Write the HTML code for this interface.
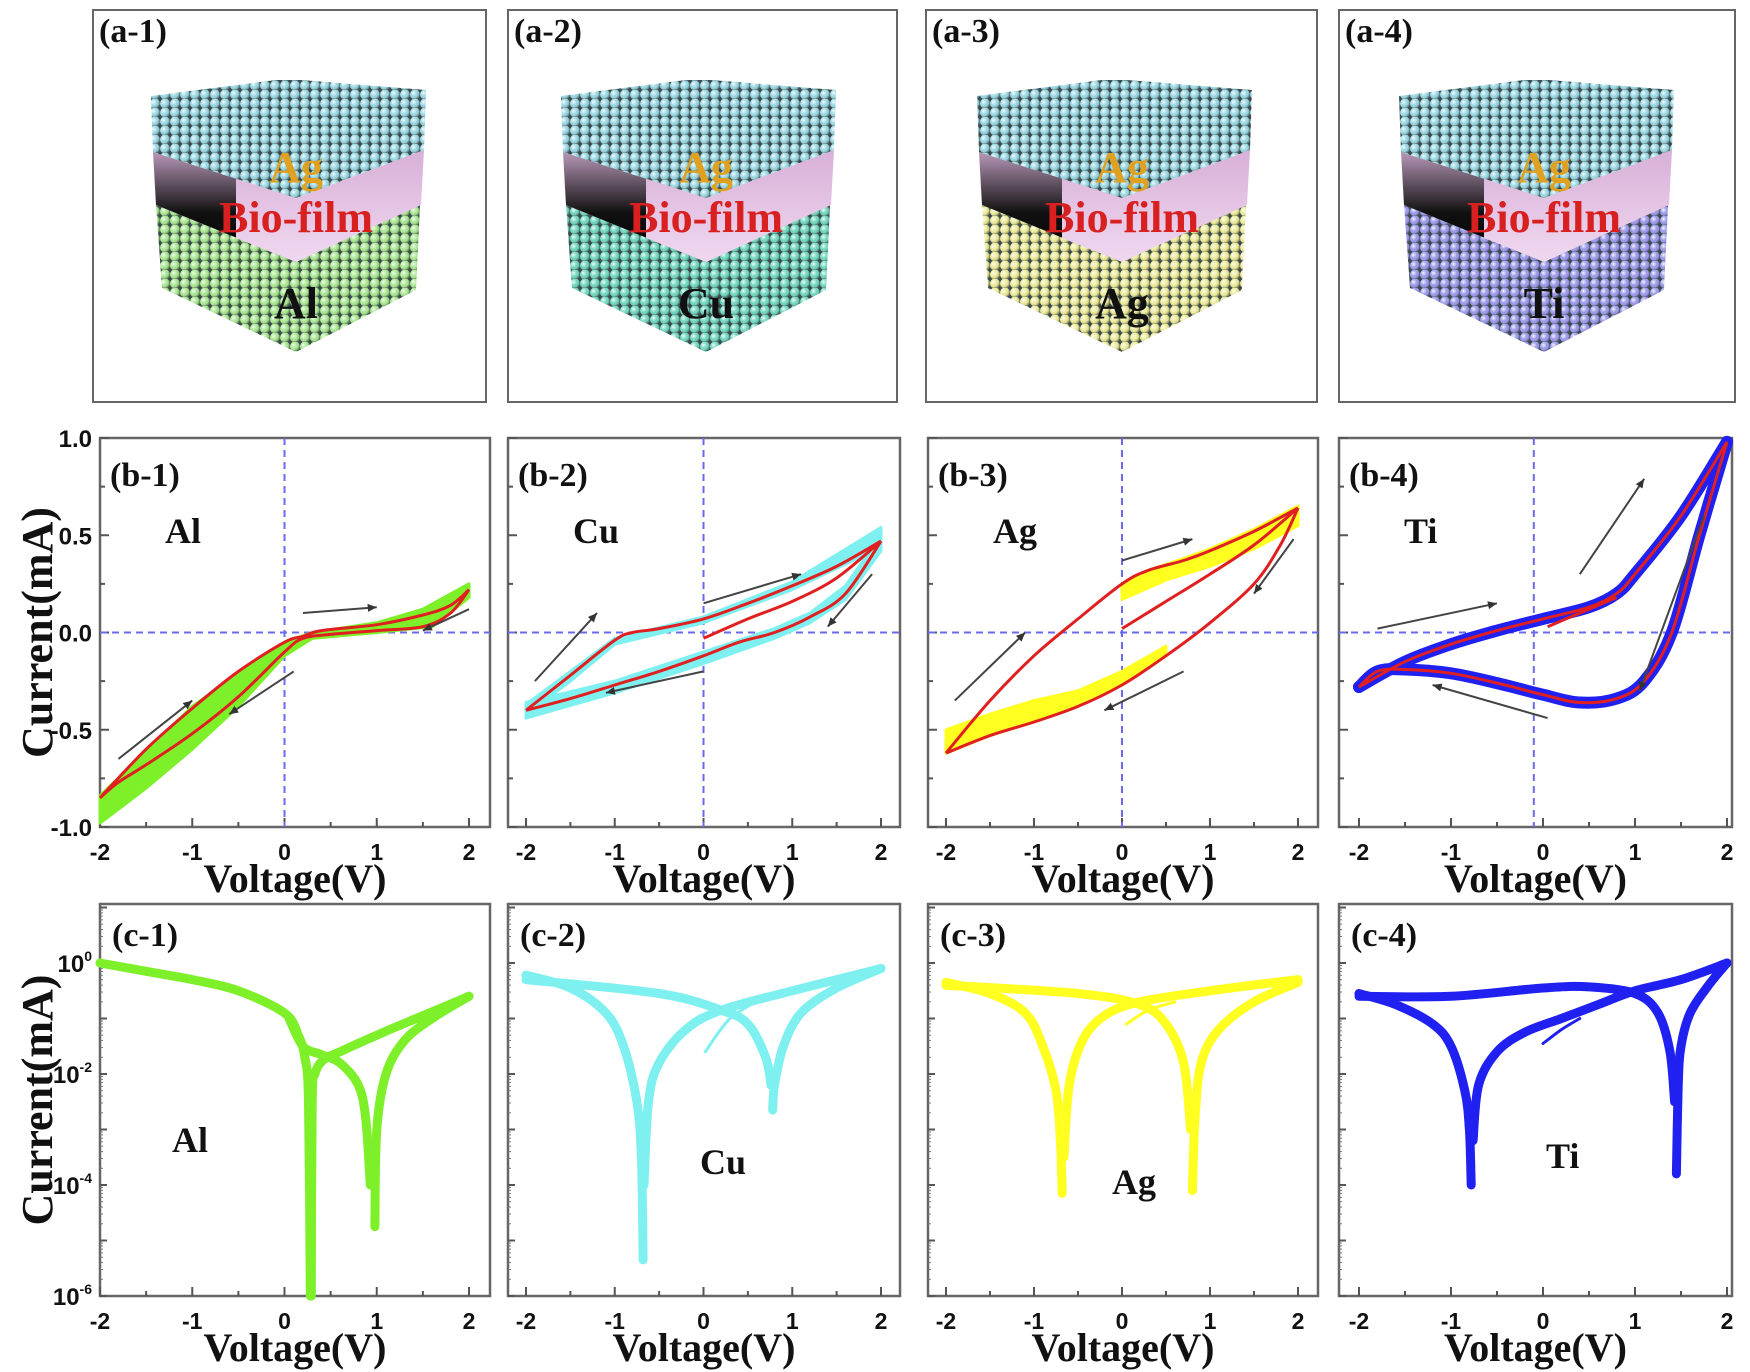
<!DOCTYPE html>
<html><head><meta charset="utf-8"><style>
html,body{margin:0;padding:0;background:#fff}
svg{display:block}
.ser{font-family:"Liberation Serif",serif;font-weight:bold}
.san{font-family:"Liberation Sans",sans-serif;font-weight:bold}
</style></head><body>
<svg id="fig" width="1750" height="1372" viewBox="0 0 1750 1372" xmlns="http://www.w3.org/2000/svg">
<defs>
<radialGradient id="sph" cx="35%" cy="35%" r="65%"><stop offset="0" stop-color="#fff" stop-opacity="0.9"/><stop offset="0.5" stop-color="#fff" stop-opacity="0"/><stop offset="1" stop-color="#000" stop-opacity="0.45"/></radialGradient>
<linearGradient id="bioG" x1="0" y1="1" x2="0" y2="0"><stop offset="0" stop-color="#000"/><stop offset="0.45" stop-color="#111"/><stop offset="1" stop-color="#b898b8"/></linearGradient>
<linearGradient id="bioT" x1="0" y1="0" x2="0" y2="1"><stop offset="0" stop-color="#d8b0d8"/><stop offset="1" stop-color="#f0d8f0"/></linearGradient>
</defs>
</svg>
<script>
// ---------- data: b row (linear I-V, mA) ----------
const bTicksY = [-1.0, -0.5, 0.0, 0.5, 1.0];
const bTickLabelsY = ["-1.0", "-0.5", "0.0", "0.5", "1.0"];
const xTicks = [-2, -1, 0, 1, 2];
const xTickLabels = ["-2", "-1", "0", "1", "2"];
const metals = ["Al", "Cu", "Ag", "Ti"];
const bandColors = ["#7ef02a", "#7ff0f0", "#ffff20", "#2020f0"];

const alFwd = [[-2,-0.85],[-1.5,-0.6],[-1,-0.39],[-0.5,-0.2],[0,-0.05],[0.2,-0.02],[0.4,0.01],[1,0.04],[1.5,0.09],[1.8,0.14],[2,0.22]];
const alRev = [[2,0.22],[1.8,0.1],[1.5,0.03],[1,0.01],[0.5,-0.01],[0.2,-0.03],[0,-0.1],[-0.5,-0.33],[-1,-0.52],[-1.5,-0.68],[-1.8,-0.77],[-2,-0.85]];
const alBand = [[-2,-0.84],[-1,-0.38],[0,-0.05],[0.3,0.0],[1,0.05],[1.5,0.12],[2,0.25],[2,0.18],[1.6,0.03],[1,0.0],[0.3,-0.03],[0,-0.12],[-0.5,-0.38],[-1,-0.6],[-1.5,-0.8],[-2,-0.98]];

const cuFwd = [[-2,-0.4],[-1.5,-0.22],[-1,-0.04],[-0.8,0.0],[-0.5,0.02],[0,0.07],[0.5,0.15],[1,0.24],[1.5,0.34],[2,0.47]];
const cuRev = [[2,0.47],[1.6,0.2],[1.2,0.08],[0.8,0.0],[0.4,-0.05],[0,-0.12],[-0.5,-0.2],[-1,-0.27],[-1.5,-0.34],[-2,-0.4]];
const cuInit = [[0,-0.03],[0.5,0.07],[1,0.16],[1.5,0.28],[2,0.47]];
const cuBandHi = [[-2,-0.37],[-1.5,-0.2],[-1,-0.03],[0,0.08],[1,0.26],[2,0.54],[2,0.44],[1,0.22],[0,0.05],[-1,-0.06],[-1.5,-0.25],[-2,-0.42]];
const cuBandLo = [[2,0.42],[1.6,0.17],[1.2,0.05],[0.8,-0.03],[0,-0.16],[-1,-0.31],[-2,-0.44],[-2,-0.36],[-1,-0.25],[0,-0.1],[0.8,0.02],[1.2,0.1],[1.6,0.24],[2,0.5]];

const agFwd = [[-2,-0.62],[-1.5,-0.35],[-1,-0.12],[-0.5,0.07],[0,0.25],[0.3,0.32],[0.7,0.37],[1,0.42],[1.5,0.52],[2,0.64]];
const agRev = [[2,0.64],[1.8,0.45],[1.5,0.25],[1,0.05],[0.5,-0.12],[0,-0.27],[-0.5,-0.38],[-1,-0.46],[-1.5,-0.53],[-2,-0.62]];
const agInit = [[0,0.02],[0.5,0.16],[1,0.3],[1.5,0.45],[2,0.64]];
const agBandHi = [[0,0.25],[0.3,0.32],[0.7,0.38],[1,0.43],[1.5,0.53],[2,0.65],[2,0.55],[1.5,0.43],[1,0.34],[0.5,0.27],[0,0.17]];
const agBandLo = [[0.5,-0.12],[0,-0.27],[-0.5,-0.38],[-1,-0.46],[-1.5,-0.53],[-2,-0.62],[-2,-0.5],[-1.5,-0.42],[-1,-0.35],[-0.5,-0.3],[0,-0.2],[0.5,-0.07]];

const tiFwd = [[-2,-0.28],[-1.5,-0.15],[-1,-0.06],[-0.5,0.01],[0,0.07],[0.5,0.13],[0.8,0.2],[1,0.3],[1.5,0.6],[2,0.98]];
const tiRev = [[2,0.98],[1.7,0.5],[1.4,0.0],[1.1,-0.25],[0.8,-0.34],[0.4,-0.36],[0,-0.32],[-0.5,-0.26],[-1,-0.21],[-1.5,-0.19],[-1.8,-0.2],[-2,-0.28]];
const tiInit = [[0.05,0.03],[0.5,0.12],[0.8,0.18]];

// ---------- data: c row (log10 |I|) ----------
const cTicksExp = [0, -2, -4, -6];
const cTickLabels = ["0", "-2", "-4", "-6"];
const alLog1 = [[-2,0.0],[-1.5,-0.15],[-1,-0.3],[-0.5,-0.5],[0,-0.9],[0.15,-1.3],[0.22,-1.7],[0.26,-2.5],[0.28,-6]];
const alLog2 = [[0.29,-6],[0.3,-2.5],[0.33,-2.0],[0.42,-1.75],[0.6,-1.6],[1,-1.3],[1.5,-0.95],[2,-0.6]];
const alLog3 = [[2,-0.6],[1.6,-1.0],[1.3,-1.4],[1.1,-2.0],[1.0,-3.0],[0.98,-4.75]];
const alLog4 = [[0.93,-4.0],[0.88,-2.8],[0.8,-2.2],[0.6,-1.8],[0.4,-1.65],[0.2,-1.5],[0.05,-1.0]];
const cuLog1 = [[-2,-0.22],[-1.5,-0.45],[-1.1,-0.9],[-0.9,-1.5],[-0.75,-2.5],[-0.7,-3.5],[-0.68,-5.35]];
const cuLog2 = [[-0.67,-4.0],[-0.62,-2.5],[-0.5,-1.8],[-0.2,-1.2],[0.2,-0.85],[1,-0.5],[2,-0.1]];
const cuLog3 = [[2,-0.1],[1.5,-0.45],[1.1,-0.9],[0.9,-1.5],[0.8,-2.2],[0.78,-2.65]];
const cuLog4 = [[0.76,-2.2],[0.7,-1.7],[0.5,-1.1],[0.2,-0.85],[-0.5,-0.55],[-2,-0.3]];
const cuLog5 = [[0.02,-1.6],[0.3,-1.0],[0.7,-0.6]];
const agLog1 = [[-2,-0.35],[-1.5,-0.55],[-1.1,-0.9],[-0.9,-1.5],[-0.75,-2.3],[-0.7,-3.2],[-0.68,-4.15]];
const agLog2 = [[-0.66,-3.5],[-0.6,-2.2],[-0.45,-1.4],[-0.2,-0.95],[0.2,-0.7],[1,-0.5],[2,-0.3]];
const agLog3 = [[2,-0.35],[1.5,-0.7],[1.1,-1.2],[0.9,-1.8],[0.83,-2.8],[0.8,-4.1]];
const agLog4 = [[0.78,-3.0],[0.7,-1.8],[0.5,-1.1],[0.2,-0.75],[-0.5,-0.55],[-2,-0.4]];
const agLog5 = [[0.05,-1.1],[0.3,-0.85],[0.6,-0.7]];
const tiLog1 = [[-2,-0.55],[-1.6,-0.75],[-1.2,-1.1],[-1.0,-1.5],[-0.85,-2.3],[-0.8,-3.0],[-0.78,-4.0]];
const tiLog2 = [[-0.76,-3.2],[-0.7,-2.2],[-0.5,-1.6],[-0.2,-1.25],[0.2,-1.0],[0.6,-0.75],[1,-0.5],[1.5,-0.3],[2,0.0]];
const tiLog3 = [[2,0.0],[1.8,-0.4],[1.6,-0.9],[1.5,-1.5],[1.47,-2.2],[1.45,-3.8]];
const tiLog4 = [[1.43,-2.5],[1.38,-1.6],[1.25,-0.9],[1.0,-0.55],[0.5,-0.43],[0,-0.45],[-1,-0.6],[-2,-0.6]];
const tiLog5 = [[0.0,-1.45],[0.2,-1.2],[0.4,-1.0]];

// ---------- layout ----------
const NS = "http://www.w3.org/2000/svg";
const svg = document.getElementById("fig");
const aBoxes = [[93,486],[508,897],[926,1317],[1339,1735]];
const cubeCx = [296, 706, 1122, 1544];
const metalFill = ["#a8e890", "#6fd8c0", "#ecec98", "#9a98ec"];
const panelX = [[100,490,100,469],[508,900,526,881],[928,1318,946,1298],[1339,1732,1359,1727]];
const bTop = 438, bBot = 827;
const cTop = 904, cBot = 1296, cY0 = 963, cYm6 = 1296;
const cLabelXY = [[172,1152],[700,1174],[1112,1194],[1546,1168]];

function el(tag, attrs, parent) {
  const e = document.createElementNS(NS, tag);
  for (const k in attrs) e.setAttribute(k, attrs[k]);
  (parent || svg).appendChild(e);
  return e;
}
function smooth(pts) {
  if (pts.length < 2) return "";
  let d = "M" + pts[0][0].toFixed(1) + "," + pts[0][1].toFixed(1);
  for (let i = 0; i < pts.length - 1; i++) {
    const p0 = pts[Math.max(0, i - 1)], p1 = pts[i], p2 = pts[i + 1], p3 = pts[Math.min(pts.length - 1, i + 2)];
    const c1 = [p1[0] + (p2[0] - p0[0]) / 6, p1[1] + (p2[1] - p0[1]) / 6];
    const c2 = [p2[0] - (p3[0] - p1[0]) / 6, p2[1] - (p3[1] - p1[1]) / 6];
    d += "C" + c1[0].toFixed(1) + "," + c1[1].toFixed(1) + " " + c2[0].toFixed(1) + "," + c2[1].toFixed(1) + " " + p2[0].toFixed(1) + "," + p2[1].toFixed(1);
  }
  return d;
}
function text(str, x, y, size, cls, anchor, parent, fill) {
  const t = el("text", {x: x, y: y, "font-size": size, class: cls, "text-anchor": anchor || "start", fill: fill || "#111"}, parent);
  t.textContent = str;
  return t;
}

// ---------- sphere patterns ----------
const defs = svg.querySelector("defs");
function spherePattern(id, color) {
  const p = el("pattern", {id: id, width: 10, height: 9, patternUnits: "userSpaceOnUse"}, defs);
  el("rect", {width: 10, height: 9, fill: "#3a4a4a"}, p);
  el("circle", {cx: 5, cy: 4.5, r: 5, fill: color}, p);
  el("circle", {cx: 5, cy: 4.5, r: 5, fill: "url(#sph)"}, p);
}
spherePattern("pAg", "#98d8e4");
metalFill.forEach((c, i) => spherePattern("pM" + i, c));

// ---------- row a: cubes ----------
aBoxes.forEach((b, i) => {
  const g = el("g", {});
  
  
  el("rect", {x: b[0], y: 10, width: b[1] - b[0], height: 392, fill: "#fff", stroke: "#666", "stroke-width": 2}, g);
  const lab = text("(a-" + (i + 1) + ")", b[0] + 6, 42, 34, "ser", "start", g);
  
  
  const cx = cubeCx[i];
  const P = a => a.map(p => (cx + p[0]) + "," + p[1]).join(" ");
  el("polygon", {points: P([[-140,205],[0,262],[124,205],[120,290],[0,352],[-134,288]]), fill: "url(#pM" + i + ")"}, g);
  el("polygon", {points: P([[-143,152],[0,198],[0,262],[-140,205]]), fill: "url(#bioG)"}, g);
  el("polygon", {points: P([[-60,178],[0,198],[128,150],[125,205],[0,262],[-60,238]]), fill: "url(#bioT)"}, g);
  el("polygon", {points: P([[-145,96],[-20,80],[5,80],[130,90],[128,150],[0,198],[-143,152]]), fill: "url(#pAg)"}, g);
  text("Ag", cx, 182, 44, "ser", "middle", g, "#e0a020");
  text("Bio-film", cx, 232, 44, "ser", "middle", g, "#d82020");
  text(metals[i], cx, 318, 44, "ser", "middle", g, "#111");
});

// ---------- axes helpers ----------
function panelFrame(i, top, bot, row) {
  const px = panelX[i];
  const g = el("g", {});
  
  
  el("rect", {x: px[0], y: top, width: px[1] - px[0], height: bot - top, fill: "#fff", stroke: "#666", "stroke-width": 2.5}, g);
  const sx = v => px[2] + (v + 2) / 4 * (px[3] - px[2]);
  for (let v = -2; v <= 2.001; v += 0.5) {
    const len = Math.abs(v - Math.round(v)) < 0.01 ? 9 : 5;
    el("line", {x1: sx(v), x2: sx(v), y1: bot, y2: bot - len, stroke: "#555", "stroke-width": 2}, g);
  }
  xTicks.forEach((v, k) => {
    const t = text(xTickLabels[k], sx(v), bot + 33, 23, "san", "middle", g);
    
    
  });
  const xl = text("Voltage(V)", (px[0] + px[1]) / 2, bot + 65, 40, "ser", "middle", g);
  
  
  return {g: g, sx: sx};
}

// ---------- row b ----------
const bSets = [
  {band: [alBand], fwd: alFwd, rev: alRev, init: null, zeroV: 0},
  {band: [cuBandHi, cuBandLo], fwd: cuFwd, rev: cuRev, init: cuInit, zeroV: 0},
  {band: [agBandHi, agBandLo], fwd: agFwd, rev: agRev, init: agInit, zeroV: 0},
  {band: [], fwd: tiFwd, rev: tiRev, init: tiInit, zeroV: -0.1}
];
const byS = v => bTop + (1 - v) / 2 * (bBot - bTop);
bSets.forEach((s, i) => {
  const f = panelFrame(i, bTop, bBot, "b");
  const g = f.g, sx = f.sx;
  const px = panelX[i];
  for (let v = -1; v <= 1.001; v += 0.25) {
    const len = Math.abs(v * 2 - Math.round(v * 2)) < 0.01 ? 9 : 5;
    el("line", {x1: px[0], x2: px[0] + len, y1: byS(v), y2: byS(v), stroke: "#555", "stroke-width": 2}, g);
  }
  if (i === 0) {
    bTicksY.forEach((v, k) => {
      const t = text(bTickLabelsY[k], px[0] - 8, byS(v) + 9, 24, "san", "end", g);
      
      
    });
  }
  el("line", {x1: sx(s.zeroV), x2: sx(s.zeroV), y1: bTop, y2: bBot, stroke: "#6a6af0", "stroke-width": 2, "stroke-dasharray": "7,5"}, g);
  el("line", {x1: px[0], x2: px[1], y1: byS(0), y2: byS(0), stroke: "#6a6af0", "stroke-width": 2, "stroke-dasharray": "7,5"}, g);
  s.band.forEach(b => {
    const poly = el("polygon", {points: b.map(p => sx(p[0]) + "," + byS(p[1])).join(" "), fill: bandColors[i], stroke: bandColors[i], "stroke-width": 3, "stroke-linejoin": "round"}, g);
    
    
  });
  if (i === 3) {
    [s.fwd, s.rev].forEach(arr => {
      const bl = el("path", {d: smooth(arr.map(p => [sx(p[0]), byS(p[1])])), fill: "none", stroke: bandColors[3], "stroke-width": 12, "stroke-linecap": "round"}, g);
      
      
    });
  }
  [s.fwd, s.rev, s.init].forEach((arr, k) => {
    if (!arr) return;
    const pth = el("path", {d: smooth(arr.map(p => [sx(p[0]), byS(p[1])])), fill: "none", stroke: "#e02020", "stroke-width": 3}, g);
    
    
  });
  const pl = text("(b-" + (i + 1) + ")", px[0] + 10, bTop + 48, 34, "ser", "start", g);
  
  
  const ml = text(metals[i], px[0] + 65, bTop + 105, 36, "ser", "start", g);
  
  
});

// sweep direction arrows (annotations)
const arrowsB = [
  [[-1.8,-0.65],[-1.0,-0.35]], [[0.2,0.1],[1.0,0.13]], [[2.0,0.12],[1.5,0.01]], [[0.1,-0.2],[-0.6,-0.42]],
  [[-1.9,-0.25],[-1.2,0.1]], [[0.0,0.15],[1.1,0.3]], [[1.9,0.3],[1.4,0.03]], [[0.0,-0.2],[-1.1,-0.31]],
  [[-1.9,-0.35],[-1.1,0.0]], [[0.0,0.37],[0.8,0.48]], [[1.95,0.48],[1.5,0.2]], [[0.7,-0.2],[-0.2,-0.4]],
  [[-1.8,0.02],[-0.5,0.15]], [[0.4,0.3],[1.1,0.79]], [[1.75,0.6],[1.05,-0.3]], [[0.05,-0.44],[-1.2,-0.27]]
];
arrowsB.forEach((a, k) => {
  const i = Math.floor(k / 4);
  const px = panelX[i];
  const sx = v => px[2] + (v + 2) / 4 * (px[3] - px[2]);
  const x1 = sx(a[0][0]), y1 = byS(a[0][1]), x2 = sx(a[1][0]), y2 = byS(a[1][1]);
  const ln = el("line", {x1: x1, y1: y1, x2: x2, y2: y2, stroke: "#444", "stroke-width": 2});
  
  
  const ang = Math.atan2(y2 - y1, x2 - x1);
  const hx = x2 - 9 * Math.cos(ang), hy = y2 - 9 * Math.sin(ang);
  el("polygon", {points: x2 + "," + y2 + " " + (hx + 4 * Math.sin(ang)) + "," + (hy - 4 * Math.cos(ang)) + " " + (hx - 4 * Math.sin(ang)) + "," + (hy + 4 * Math.cos(ang)), fill: "#333"});
});

// y title b
const yb = text("Current(mA)", 0, 0, 44, "ser", "middle");
yb.setAttribute("transform", "translate(52," + ((bTop + bBot) / 2) + ") rotate(-90)");



// ---------- row c ----------
const cSets = [
  [alLog1, alLog2, alLog3, alLog4],
  [cuLog1, cuLog2, cuLog3, cuLog4, cuLog5],
  [agLog1, agLog2, agLog3, agLog4, agLog5],
  [tiLog1, tiLog2, tiLog3, tiLog4, tiLog5]
];
const cy = L => cY0 - L * (cYm6 - cY0) / 6;
cSets.forEach((arrs, i) => {
  const f = panelFrame(i, cTop, cBot, "c");
  const g = f.g, sx = f.sx;
  const px = panelX[i];
  for (let L = -6; L <= 1; L++) {
    el("line", {x1: px[0], x2: px[0] + 7, y1: cy(L), y2: cy(L), stroke: "#555", "stroke-width": 2}, g);
    for (let m = 2; m <= 9; m++) {
      const yy = cy(L - 1 + Math.log10(m));
      if (yy > cTop && yy < cBot) el("line", {x1: px[0], x2: px[0] + 3, y1: yy, y2: yy, stroke: "#777", "stroke-width": 1}, g);
    }
  }
  if (i === 0) {
    cTicksExp.forEach((L, k) => {
      const t = el("text", {x: px[0] - 8, y: cy(L) + 9, "font-size": 24, class: "san", "text-anchor": "end", fill: "#111"}, g);
      
      
      t.appendChild(document.createTextNode("10"));
      const sup = document.createElementNS(NS, "tspan");
      sup.setAttribute("font-size", "14");
      sup.setAttribute("dy", "-11");
      sup.textContent = cTickLabels[k];
      t.appendChild(sup);
    });
  }
  arrs.forEach((arr, k) => {
    const w = k === 4 ? 3 : 9;
    const pth = el("path", {d: smooth(arr.map(p => [sx(p[0]), cy(p[1])])), fill: "none", stroke: bandColors[i], "stroke-width": w, "stroke-linecap": "round", "stroke-linejoin": "round"}, g);
    
    
  });
  const pl = text("(c-" + (i + 1) + ")", px[0] + 12, cTop + 42, 34, "ser", "start", g);
  
  
  const ml = text(metals[i], cLabelXY[i][0], cLabelXY[i][1], 36, "ser", "start", g);
  
  
});
const yc = text("Current(mA)", 0, 0, 44, "ser", "middle");
yc.setAttribute("transform", "translate(52," + ((cTop + cBot) / 2) + ") rotate(-90)");


</script>
</body></html>
